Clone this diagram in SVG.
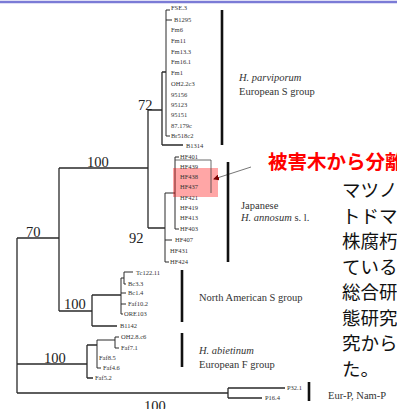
<svg xmlns="http://www.w3.org/2000/svg" width="397" height="409" viewBox="0 0 397 409">
<style>
.t{fill:none;stroke:#2a2a2a;stroke-width:1.3}
.l{fill:none;stroke:#2a2a2a;stroke-width:1}
.bar{stroke:#111;stroke-width:2.6}
.lf{font-family:"Liberation Serif",serif;font-size:6.5px;fill:#333}
.g{font-family:"Liberation Serif",serif;font-size:10.5px;fill:#333}
.gi{font-family:"Liberation Serif",serif;font-size:10.5px;fill:#333;font-style:italic}
.bs{font-family:"Liberation Serif",serif;font-size:14.5px;fill:#222}
.jp{font-family:"Noto Sans CJK JP",sans-serif;font-size:18.5px;fill:#111}
.red{font-family:"Noto Sans CJK JP",sans-serif;font-size:19.5px;font-weight:bold;fill:#ff0000}
</style>
<defs>
<marker id="ah" markerWidth="6" markerHeight="6" refX="5" refY="3" orient="auto" markerUnits="userSpaceOnUse">
<path d="M0,0 L6,3 L0,6 Z" fill="#7a0000"/>
</marker>
</defs>
<rect width="397" height="409" fill="#fff"/>
<line x1="0" y1="2" x2="397" y2="2" stroke="#7b7bd6" stroke-width="2.5"/>

<g id="connectors">
<path class="t" d="M17,238 V393 M17,238 H59 M17,364 H87 M17,393 H228"/>
<path class="t" d="M59,168 V311 M59,168 H148 M59,311 H92"/>
<path class="t" d="M148,110 V228 M148,110 H162 M148,228 H165"/>
<path class="t" d="M162,72 V145 M162,72 H166 M162,145 H183"/>
<path class="l" d="M166,10 V136 M166,10 H170 M166,20 H172 M166,136 H170"/>
<path class="l" d="M165,193 V262 M165,193 H175 M175,157 V229 M175,157 H179 M175,229 H179 M165,240 H172 M165,262 H169"/>
<path class="t" d="M92,295 V326 M92,326 H117 M92,295 H121"/>
<path class="l" d="M121,278 V314 M121,278 H124 M124,272 V284 M124,272 H133 M124,284 H126 M121,293 H126 M121,304 H126 M121,314 H123"/>
<path class="t" d="M87,345 V378 M87,378 H93 M87,345 H97"/>
<path class="l" d="M97,340 V368 M97,368 H101 M97,340 H115 M115,337 V348 M115,337 H119 M115,348 H119"/>
<path class="t" d="M228,388 V398 M228,388 H285 M228,398 H262"/>
</g>

<g id="highlight">
<rect x="173" y="168" width="45" height="29" fill="#ff0000" fill-opacity="0.35"/>
<path d="M175,160 H211 V193" fill="none" stroke="#444" stroke-width="0.8"/>
<line x1="251" y1="167" x2="214" y2="179" stroke="#666" stroke-width="0.9" marker-end="url(#ah)"/>
</g>

<g id="bars">
<line class="bar" x1="222" y1="10" x2="222" y2="145"/>
<line class="bar" x1="228" y1="162" x2="228" y2="262"/>
<line class="bar" x1="182" y1="270" x2="182" y2="322"/>
<line class="bar" x1="182" y1="333" x2="182" y2="367"/>
<line class="bar" x1="309" y1="382" x2="309" y2="401"/>
</g>

<g id="bootstrap">
<text class="bs" x="138" y="110">72</text>
<text class="bs" x="87" y="167">100</text>
<text class="bs" x="26" y="237">70</text>
<text class="bs" x="129" y="243">92</text>
<text class="bs" x="64" y="309">100</text>
<text class="bs" x="44" y="363">100</text>
<text class="bs" x="144" y="411">100</text>
</g>

<g id="leaves-eur-s">
<text class="lf" x="171" y="10">FSE.3</text>
<text class="lf" x="174" y="22">B1295</text>
<text class="lf" x="171" y="32">Fm6</text>
<text class="lf" x="171" y="43">Fm11</text>
<text class="lf" x="171" y="54">Fm13.3</text>
<text class="lf" x="171" y="64">Fm16.1</text>
<text class="lf" x="171" y="75">Fm1</text>
<text class="lf" x="171" y="86">OH2.2c3</text>
<text class="lf" x="171" y="97">95156</text>
<text class="lf" x="171" y="107">95123</text>
<text class="lf" x="171" y="117">95151</text>
<text class="lf" x="171" y="128">87.179c</text>
<text class="lf" x="171" y="138">Br518c2</text>
<text class="lf" x="186" y="148">B1314</text>
</g>

<g id="leaves-japanese">
<text class="lf" x="180" y="159">HF401</text>
<text class="lf" x="180" y="169">HF439</text>
<text class="lf" x="180" y="179">HF438</text>
<text class="lf" x="180" y="189">HF437</text>
<text class="lf" x="180" y="200">HF421</text>
<text class="lf" x="180" y="210">HF419</text>
<text class="lf" x="180" y="220">HF413</text>
<text class="lf" x="180" y="231">HF403</text>
<text class="lf" x="175" y="242">HF407</text>
<text class="lf" x="170" y="253">HF431</text>
<text class="lf" x="170" y="264">HF424</text>
</g>

<g id="leaves-na">
<text class="lf" x="136" y="275">Tc122.11</text>
<text class="lf" x="128" y="286">Bc3.3</text>
<text class="lf" x="128" y="295">Bc1.4</text>
<text class="lf" x="128" y="306">Faf10.2</text>
<text class="lf" x="124" y="316">ORE103</text>
<text class="lf" x="120" y="328">B1142</text>
</g>

<g id="leaves-abietinum">
<text class="lf" x="121" y="339">OH2.8.c6</text>
<text class="lf" x="121" y="350">Faf7.1</text>
<text class="lf" x="99" y="360">Faf8.5</text>
<text class="lf" x="103" y="370">Faf4.6</text>
<text class="lf" x="95" y="380">Faf5.2</text>
</g>

<g id="leaves-p">
<text class="lf" x="287" y="390">P32.1</text>
<text class="lf" x="265" y="400">P16.4</text>
</g>

<g id="group-labels">
<text class="gi" x="239" y="81">H. parviporum</text>
<text class="g" x="239" y="95">European S group</text>
<text class="g" x="241" y="209">Japanese</text>
<text class="g" x="241" y="221"><tspan font-style="italic">H. annosum</tspan> s. l.</text>
<text class="g" x="199" y="301">North American S group</text>
<text class="gi" x="199" y="354">H. abietinum</text>
<text class="g" x="199" y="368">European F group</text>
<text class="g" x="328" y="399" font-size="11.5">Eur-P, Nam-P</text>
</g>

<g id="annotation">
<text class="red" x="268" y="169">被害木から分離</text>
<text class="jp" x="342" y="197">マツノ</text>
<text class="jp" x="342" y="222.5">トドマ</text>
<text class="jp" x="342" y="248">株腐朽</text>
<text class="jp" x="342" y="273.5">ている</text>
<text class="jp" x="342" y="299">総合研</text>
<text class="jp" x="342" y="324.5">態研究</text>
<text class="jp" x="342" y="350">究から</text>
<text class="jp" x="342" y="375.5">た。</text>
</g>
</svg>
